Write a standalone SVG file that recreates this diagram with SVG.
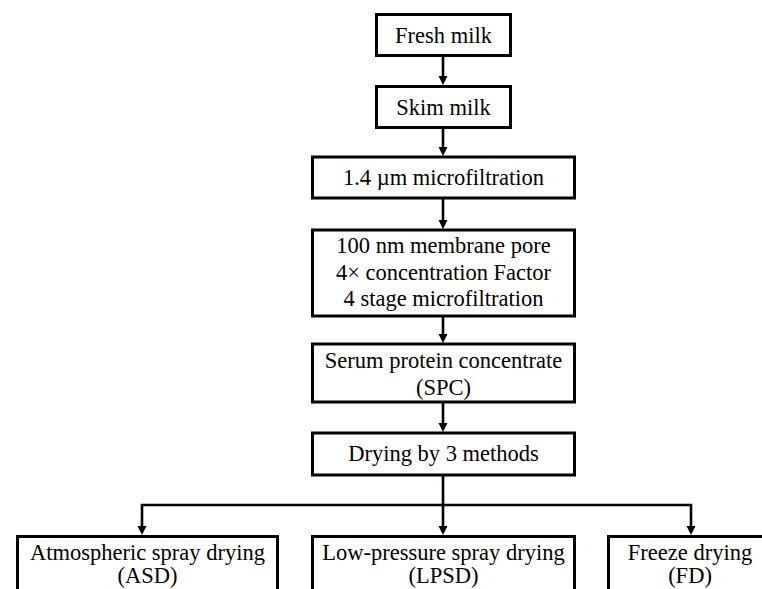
<svg xmlns="http://www.w3.org/2000/svg" width="762" height="589" viewBox="0 0 762 589">
<style>
.box{fill:#fff;stroke:#000;stroke-width:3}
.t{font-family:"Liberation Serif","Times New Roman",serif;font-size:22.5px;fill:#000;text-anchor:middle}
.c{fill:none;stroke:#000;stroke-width:2.6}
</style>
<defs>
<g id="arrowhead"><polygon points="-4.5,-9 4.5,-9 0,0" fill="#000"/></g>
</defs>
<rect width="762" height="589" fill="#fff"/>
<g id="connectors">
<path class="c" d="M443,56 V76"/>
<use href="#arrowhead" x="443" y="85"/>
<path class="c" d="M443,128 V147"/>
<use href="#arrowhead" x="443" y="156"/>
<path class="c" d="M443,199 V220"/>
<use href="#arrowhead" x="443" y="229"/>
<path class="c" d="M443,317 V334"/>
<use href="#arrowhead" x="443" y="343"/>
<path class="c" d="M443,403 V423"/>
<use href="#arrowhead" x="443" y="432"/>
<path class="c" d="M443,476 V526"/>
<use href="#arrowhead" x="443" y="535"/>
<path class="c" d="M142,526 V505 H691 V526"/>
<use href="#arrowhead" x="142" y="535"/>
<use href="#arrowhead" x="691" y="535"/>
</g>
<g id="fresh-milk">
<rect class="box" x="376.5" y="14.5" width="134" height="41"/>
<text class="t" x="443.5" y="43">Fresh milk</text>
</g>
<g id="skim-milk">
<rect class="box" x="376.5" y="86.5" width="134" height="41"/>
<text class="t" x="443.5" y="115">Skim milk</text>
</g>
<g id="microfiltration">
<rect class="box" x="312.5" y="157" width="262" height="41"/>
<text class="t" x="443.5" y="185">1.4 µm microfiltration</text>
</g>
<g id="membrane">
<rect class="box" x="312.5" y="230" width="262" height="86"/>
<text class="t" x="443.5" y="253">100 nm membrane pore</text>
<text class="t" x="443.5" y="280">4× concentration Factor</text>
<text class="t" x="443.5" y="306">4 stage microfiltration</text>
</g>
<g id="spc">
<rect class="box" x="312.5" y="344" width="262" height="58"/>
<text class="t" x="443.5" y="368">Serum protein concentrate</text>
<text class="t" x="443.5" y="395">(SPC)</text>
</g>
<g id="drying">
<rect class="box" x="312.5" y="433" width="262" height="42"/>
<text class="t" x="443.5" y="461">Drying by 3 methods</text>
</g>
<g id="asd">
<rect class="box" x="17.5" y="536.5" width="260" height="80"/>
<text class="t" x="147.5" y="560">Atmospheric spray drying</text>
<text class="t" x="147.5" y="583">(ASD)</text>
</g>
<g id="lpsd">
<rect class="box" x="312.5" y="536.5" width="262" height="80"/>
<text class="t" x="443.5" y="560">Low-pressure spray drying</text>
<text class="t" x="443.5" y="583">(LPSD)</text>
</g>
<g id="fd">
<rect class="box" x="608.5" y="536.5" width="166" height="80"/>
<text class="t" x="690" y="560">Freeze drying</text>
<text class="t" x="690" y="583">(FD)</text>
</g>
</svg>
